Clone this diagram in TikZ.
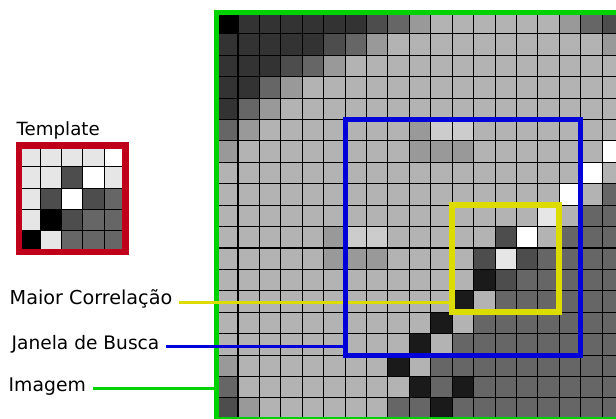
\documentclass[tikz,border=0pt]{standalone}
\usepackage{fontspec}
\setmainfont{DejaVu Sans}
\definecolor{g0}{HTML}{000000}
\definecolor{g1}{HTML}{1A1A1A}
\definecolor{g3}{HTML}{333333}
\definecolor{g4}{HTML}{4D4D4D}
\definecolor{g6}{HTML}{666666}
\definecolor{g9}{HTML}{999999}
\definecolor{gb}{HTML}{B3B3B3}
\definecolor{gc}{HTML}{CCCCCC}
\definecolor{ge}{HTML}{E6E6E6}
\definecolor{gw}{HTML}{FFFFFF}
\definecolor{imgreen}{HTML}{00D200}
\definecolor{winblue}{HTML}{0000D8}
\definecolor{corryellow}{HTML}{DCDC00}
\definecolor{tplred}{HTML}{C0001A}
\tikzset{
  lbl/.style={inner sep=0pt, text=black},
  framebox/.style={inner sep=0pt, outer sep=0pt, fill=none},
  gridline/.style={black, line width=1.05pt},
  conn/.style={line width=2.6pt}
}
\begin{document}
\begin{tikzpicture}[x=1pt,y=-1pt]
\useasboundingbox (0,0) rectangle (616,419);
\def\cs{21.42}
\def\gx{216.6}
\def\gy{12.4}
\begin{scope}
\clip (0,0) rectangle (616,419);
\foreach \rowlist [count=\r from 0] in {
{0,3,3,3,3,3,3,4,6,9,b,b,b,b,b,b,9,6,4},
{3,3,3,3,3,4,6,9,b,b,b,b,b,b,b,b,b,b,9},
{3,3,3,4,6,9,b,b,b,b,b,b,b,b,b,b,b,b,b},
{3,3,6,9,b,b,b,b,b,b,b,b,b,b,b,b,b,b,b},
{3,6,9,b,b,b,b,b,b,b,b,b,b,b,b,b,b,b,b},
{6,9,b,b,b,b,b,b,b,9,c,c,b,b,b,b,b,b,b},
{9,b,b,b,b,b,b,b,b,9,9,9,b,b,b,b,b,b,w},
{b,b,b,b,b,b,b,b,b,b,b,b,b,b,b,b,b,w,b},
{b,b,b,b,b,b,b,b,b,b,b,b,b,b,b,b,w,b,6},
{b,b,b,b,b,b,b,b,b,b,b,b,b,b,b,e,b,6,6},
{b,b,b,b,b,9,c,c,b,b,b,b,b,4,w,b,6,6,6},
{b,b,b,b,b,9,9,9,b,b,b,b,4,e,4,6,6,6,6},
{b,b,b,b,b,b,b,b,b,b,b,b,1,4,6,6,6,6,6},
{b,b,b,b,b,b,b,b,b,b,b,1,b,6,6,6,6,6,6},
{b,b,b,b,b,b,b,b,b,b,1,b,6,6,6,6,6,6,6},
{b,b,b,b,b,b,b,b,b,1,b,6,6,6,6,6,6,6,6},
{9,b,b,b,b,b,b,b,1,b,6,6,6,6,6,6,6,6,6},
{6,b,b,b,b,b,b,b,b,1,6,1,6,6,6,6,6,6,6},
{4,9,b,b,b,b,b,b,6,6,1,6,6,6,6,6,6,6,6}}
{
  \foreach \v [count=\c from 0] in \rowlist {
    \fill[g\v] ({\gx+\cs*\c},{\gy+\cs*\r}) rectangle +(\cs,\cs);
  }
}
\foreach \i in {0,...,19} {
  \draw[gridline] ({\gx+\cs*\i},\gy) -- +(0,{19*\cs});
  \draw[gridline] (\gx,{\gy+\cs*\i}) -- +({19*\cs},0);
}
\node[framebox, draw=imgreen, line width=5.5pt, minimum width=406.98pt, minimum height=406.98pt] (imgbox) at ({\gx+9.5*\cs},{\gy+9.5*\cs}) {};
\end{scope}
% template
\def\tx{19}
\def\ty{145.5}
\def\ts{21.3}
\foreach \rowlist [count=\r from 0] in {
{e,e,e,e,w},
{e,e,4,w,e},
{e,4,w,4,6},
{e,0,4,6,6},
{0,e,6,6,6}}
{
  \foreach \v [count=\c from 0] in \rowlist {
    \fill[g\v] ({\tx+\ts*\c},{\ty+\ts*\r}) rectangle +(\ts,\ts);
  }
}
\foreach \i in {1,...,4} {
  \draw[gridline] ({\tx+\ts*\i},\ty) -- +(0,{5*\ts});
  \draw[gridline] (\tx,{\ty+\ts*\i}) -- +({5*\ts},0);
}
\node[framebox, draw=tplred, line width=6.5pt, minimum width=106.5pt, minimum height=106.5pt] (tbox) at ({\tx+2.5*\ts},{\ty+2.5*\ts}) {};
% labels
\node[lbl, font=\fontsize{18.2}{20}\selectfont, anchor=base west] (ltemplate) at (16.5,136) {Template};
\node[lbl, font=\fontsize{19.2}{21}\selectfont, anchor=base west] (lmaior) at (9.5,305) {Maior Correlação};
\node[lbl, font=\fontsize{18.6}{21}\selectfont, anchor=base west] (ljanela) at (11.5,349.3) {Janela de Busca};
\node[lbl, font=\fontsize{18.8}{21}\selectfont, anchor=base west] (limagem) at (8.5,391.7) {Imagem};
% boxes
\node[framebox, minimum width={11*\cs*1pt}, minimum height={11*\cs*1pt}] (wbox) at ({\gx+11.5*\cs},{\gy+10.5*\cs}) {};
\node[framebox, minimum width={5*\cs*1pt}, minimum height={5*\cs*1pt}] (ybox) at ({\gx+13.5*\cs},{\gy+11.5*\cs}) {};
% connectors
\coordinate (cmaior) at (179,302.3);
\coordinate (cjanela) at (166,346.5);
\coordinate (cimagem) at (93,388.7);
\draw[conn, corryellow] (cmaior) -- (cmaior -| ybox.west);
\draw[conn, winblue] (cjanela) -- (cjanela -| wbox.west);
\draw[conn, imgreen] (cimagem) -- (cimagem -| imgbox.west);
\draw[winblue, line width=5pt] (wbox.north west) rectangle (wbox.south east);
\draw[corryellow, line width=6pt] (ybox.north west) rectangle (ybox.south east);
\end{tikzpicture}
\end{document}
